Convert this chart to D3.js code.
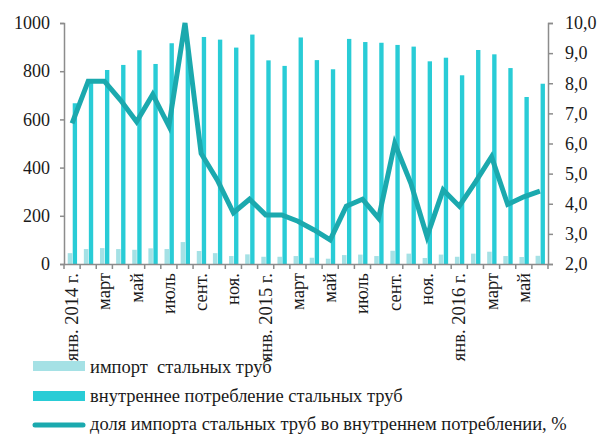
<!DOCTYPE html>
<html>
<head>
<meta charset="utf-8">
<script src="https://cdnjs.cloudflare.com/ajax/libs/d3/7.8.5/d3.min.js"></script>
<style>
  html, body { margin: 0; padding: 0; background: #ffffff; }
  svg { display: block; }
  text { font-family: "Liberation Serif", "Times New Roman", serif; fill: #1a1a1a; }
</style>
</head>
<body>
<div id="chart"></div>
<script>
const months = ["2014-01","2014-02","2014-03","2014-04","2014-05","2014-06","2014-07","2014-08","2014-09","2014-10","2014-11","2014-12",
  "2015-01","2015-02","2015-03","2015-04","2015-05","2015-06","2015-07","2015-08","2015-09","2015-10","2015-11","2015-12",
  "2016-01","2016-02","2016-03","2016-04","2016-05","2016-06"];
const tickLabels = ["янв. 2014 г.","","март","","май","","июль","","сент.","","ноя.","",
  "янв. 2015 г.","","март","","май","","июль","","сент.","","ноя.","",
  "янв. 2016 г.","","март","","май",""];
const importVals = [45,62,66,62,59,65,62,91,54,45,33,40,30,30,33,26,22,37,39,33,55,43,25,39,30,43,51,33,29,34];
const consumptionVals = [667,765,805,826,887,830,916,915,942,931,898,952,845,822,940,846,808,934,921,918,909,902,841,856,783,888,870,813,693,748];
const shareVals = [6.67,8.07,8.07,7.44,6.72,7.63,6.58,10.0,5.67,4.79,3.70,4.15,3.63,3.63,3.42,3.13,2.80,3.92,4.15,3.52,6.0,4.68,2.91,4.46,3.92,4.72,5.56,3.98,4.23,4.42];
const leftTicks = [0,200,400,600,800,1000];
const rightTicks = [2,3,4,5,6,7,8,9,10];
const seriesNames = ["импорт  стальных труб","внутреннее потребление стальных труб","доля импорта стальных труб во внутреннем потреблении, %"];

const W = 598, H = 434;
const plot = {left: 64, right: 548, top: 23, bottom: 264};
const colImport = "#a5e1e5", colCons = "#29ccd6", colLine = "#1ba9ae", axisCol = "#8c8c8c";

const svg = d3.select("#chart").append("svg").attr("width", W).attr("height", H);
svg.append("rect").attr("width", W).attr("height", H).attr("fill", "#fff");

const x = d3.scaleBand().domain(months).range([plot.left, plot.right]).padding(0);
const yL = d3.scaleLinear().domain([0,1000]).range([plot.bottom, plot.top]);
const yR = d3.scaleLinear().domain([2,10]).range([plot.bottom, plot.top]);
const bw = x.bandwidth();

// bars
svg.append("g").selectAll("rect").data(months).join("rect")
  .attr("x", d => x(d) + bw*0.23).attr("width", bw*0.28)
  .attr("y", (d,i) => yL(importVals[i])).attr("height", (d,i) => yL(0) - yL(importVals[i]))
  .attr("fill", colImport);
svg.append("g").selectAll("rect").data(months).join("rect")
  .attr("x", d => x(d) + bw*0.54).attr("width", bw*0.27)
  .attr("y", (d,i) => yL(consumptionVals[i])).attr("height", (d,i) => yL(0) - yL(consumptionVals[i]))
  .attr("fill", colCons);

// axes
const gL = svg.append("g").attr("transform", `translate(${plot.left},0)`)
  .call(d3.axisLeft(yL).tickValues(leftTicks).tickSize(4).tickPadding(10).tickFormat(d3.format("d")));
const gR = svg.append("g").attr("transform", `translate(${plot.right},0)`)
  .call(d3.axisRight(yR).tickValues(rightTicks).tickSize(5).tickPadding(12).tickFormat(d => d3.format(".1f")(d).replace(".", ",")));
const gX = svg.append("g").attr("transform", `translate(0,${plot.bottom})`)
  .call(d3.axisBottom(x).tickSize(0).tickFormat(""));
[gL, gR, gX].forEach(g => {
  g.attr("font-family", null);
  g.selectAll("path.domain").attr("stroke", axisCol).attr("stroke-width", 1.5);
  g.selectAll(".tick line").attr("stroke", axisCol).attr("stroke-width", 1.5);
  g.selectAll("text").style("font-family", "'Liberation Serif', serif").style("font-size", "18px").attr("fill", "#1a1a1a");
});
// x boundary ticks
const bounds = months.map(d => x(d)).concat([plot.right]);
gX.selectAll("line.bt").data(bounds).join("line").attr("class","bt")
  .attr("x1", d => d).attr("x2", d => d).attr("y1", 0).attr("y2", 5)
  .attr("stroke", axisCol).attr("stroke-width", 1.5);
// x labels
svg.append("g").selectAll("text").data(months).join("text")
  .attr("transform", d => `translate(${x(d) + bw/2},273) rotate(-90)`)
  .attr("text-anchor", "end").attr("dy", 6)
  .style("font-size", "18.5px")
  .text((d,i) => tickLabels[i]);

// line
const line = d3.line().x((d,i) => x(months[i]) + bw/2).y(d => yR(d));
svg.append("path").datum(shareVals).attr("d", line)
  .attr("fill", "none").attr("stroke", colLine).attr("stroke-width", 5).attr("stroke-linejoin", "miter");

// legend
const lg = svg.append("g");
const lx0 = 33, lx1 = 85;
lg.append("rect").attr("x", lx0).attr("y", 361).attr("width", lx1-lx0).attr("height", 10).attr("fill", colImport);
lg.append("rect").attr("x", lx0).attr("y", 391).attr("width", lx1-lx0).attr("height", 10).attr("fill", colCons);
lg.append("line").attr("x1", lx0+2).attr("x2", lx1-2).attr("y1", 425).attr("y2", 425)
  .attr("stroke", colLine).attr("stroke-width", 5).attr("stroke-linecap", "round");
[373, 402, 430].forEach((yy, i) => {
  lg.append("text").attr("x", 90).attr("y", yy).style("font-size", "18.5px").style("white-space", "pre").text(seriesNames[i]);
});
</script>
</body>
</html>
